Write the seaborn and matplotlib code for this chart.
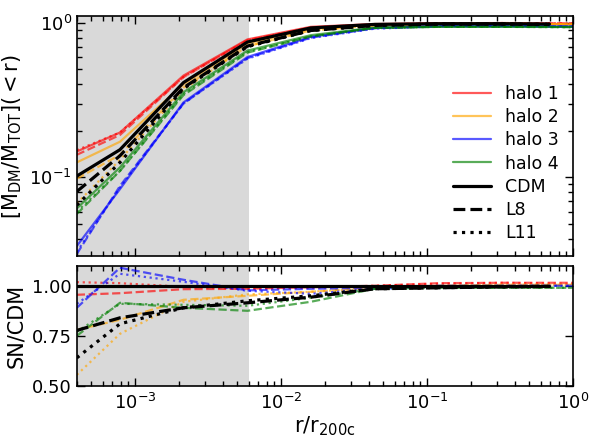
import matplotlib
matplotlib.use("Agg")
import matplotlib.pyplot as plt
from matplotlib.lines import Line2D
import seaborn as sns

# radial bins (r / r200c)
r = [4.0e-4, 7.9e-4, 2.15e-3, 5.9e-3, 1.6e-2, 4.4e-2, 0.12, 0.33, 1.0]
r_mean = [4.0e-4, 7.9e-4, 2.15e-3, 5.9e-3, 1.6e-2, 4.4e-2, 0.12, 0.33, 0.69]

halos = ["halo 1", "halo 2", "halo 3", "halo 4"]
halo_colors = ["red", "orange", "blue", "green"]

# enclosed DM fraction, per halo: CDM, L8, L11
frac_cdm = {
    "halo 1": [0.147, 0.195, 0.455, 0.78, 0.94, 0.98, 0.99, 0.99, 0.98],
    "halo 2": [0.125, 0.170, 0.40, 0.735, 0.91, 0.97, 0.985, 0.985, 0.975],
    "halo 3": [0.036, 0.084, 0.305, 0.60, 0.81, 0.925, 0.95, 0.95, 0.945],
    "halo 4": [0.063, 0.116, 0.355, 0.66, 0.83, 0.93, 0.94, 0.94, 0.94],
}
frac_l8 = {
    "halo 1": [0.140, 0.188, 0.445, 0.77, 0.93, 0.975, 0.99, 0.995, 0.99],
    "halo 2": [0.098, 0.140, 0.38, 0.705, 0.89, 0.96, 0.98, 0.985, 0.975],
    "halo 3": [0.032, 0.088, 0.30, 0.59, 0.80, 0.92, 0.95, 0.95, 0.945],
    "halo 4": [0.058, 0.110, 0.34, 0.64, 0.815, 0.925, 0.94, 0.94, 0.935],
}
frac_l11 = {
    "halo 1": [0.150, 0.195, 0.445, 0.77, 0.93, 0.975, 0.99, 0.995, 0.99],
    "halo 2": [0.068, 0.130, 0.37, 0.705, 0.89, 0.96, 0.98, 0.985, 0.975],
    "halo 3": [0.033, 0.086, 0.30, 0.585, 0.795, 0.915, 0.945, 0.95, 0.945],
    "halo 4": [0.060, 0.110, 0.345, 0.645, 0.815, 0.925, 0.94, 0.94, 0.935],
}
mean_cdm = [0.102, 0.151, 0.41, 0.75, 0.925, 0.975, 0.985, 0.985, 0.98]
mean_l8 = [0.081, 0.138, 0.38, 0.706, 0.89, 0.96, 0.98, 0.98, 0.975]
mean_l11 = [0.066, 0.125, 0.375, 0.70, 0.89, 0.96, 0.98, 0.98, 0.975]

# SN / CDM ratios
ratio_l8 = {
    "halo 1": [0.955, 0.963, 0.983, 0.985, 0.993, 1.0, 1.013, 1.015, 1.015],
    "halo 2": [0.78, 0.83, 0.93, 0.95, 0.97, 0.99, 1.0, 1.005, 1.005],
    "halo 3": [0.89, 1.09, 1.03, 0.977, 0.985, 0.99, 1.0, 1.0, 1.0],
    "halo 4": [0.75, 0.915, 0.89, 0.875, 0.92, 0.985, 0.99, 0.99, 0.99],
}
ratio_l11 = {
    "halo 1": [1.018, 1.013, 0.995, 0.985, 0.99, 1.0, 1.01, 1.015, 1.01],
    "halo 2": [0.555, 0.76, 0.92, 0.957, 0.97, 0.99, 1.0, 1.005, 1.005],
    "halo 3": [0.91, 1.06, 1.02, 0.975, 0.96, 0.985, 0.995, 1.0, 1.0],
    "halo 4": [0.77, 0.91, 0.905, 0.90, 0.94, 0.985, 0.99, 0.99, 0.99],
}
mean_ratio_cdm = [1.0, 1.0, 1.0, 1.0, 1.0, 1.0, 1.0, 1.0, 1.0]
mean_ratio_l8 = [0.777, 0.84, 0.89, 0.915, 0.943, 0.985, 0.99, 0.995, 0.997]
mean_ratio_l11 = [0.64, 0.81, 0.89, 0.925, 0.95, 0.985, 0.99, 0.995, 0.997]

sns.set_style("ticks")
plt.rcParams["font.family"] = ["DejaVu Sans"]
plt.rcParams["mathtext.default"] = "regular"
plt.rcParams["text.color"] = "black"
plt.rcParams["axes.labelcolor"] = "black"
plt.rcParams["xtick.color"] = "black"
plt.rcParams["ytick.color"] = "black"

fig = plt.figure(figsize=(6, 4.4), dpi=100)
ax1 = fig.add_axes([0.128, 0.418, 0.827, 0.545])
ax2 = fig.add_axes([0.128, 0.123, 0.827, 0.273], sharex=ax1)

shade_lim = 6e-3
for ax in (ax1, ax2):
    ax.axvspan(1e-5, shade_lim, color="0.85", zorder=0, lw=0)

def draw(ax, x, y, color, ls, lw, alpha):
    sns.lineplot(x=x, y=y, color=color, linestyle=ls, lw=lw, alpha=alpha,
                 ax=ax, sort=False, estimator=None)

for name, c in zip(halos, halo_colors):
    draw(ax1, r, frac_cdm[name], c, "-", 1.6, 0.65)
    draw(ax1, r, frac_l8[name], c, "--", 1.6, 0.65)
    draw(ax1, r, frac_l11[name], c, ":", 1.6, 0.65)
    draw(ax2, r, ratio_l8[name], c, "--", 1.6, 0.65)
    draw(ax2, r, ratio_l11[name], c, ":", 1.6, 0.65)

draw(ax1, r_mean, mean_cdm, "black", "-", 2.3, 1)
draw(ax1, r_mean, mean_l8, "black", "--", 2.3, 1)
draw(ax1, r_mean, mean_l11, "black", ":", 2.3, 1)
draw(ax2, r_mean, mean_ratio_cdm, "black", "-", 2.3, 1)
draw(ax2, r_mean, mean_ratio_l8, "black", "--", 2.3, 1)
draw(ax2, r_mean, mean_ratio_l11, "black", ":", 2.3, 1)

ax1.set_xscale("log")
ax1.set_yscale("log")
ax1.set_xlim(4e-4, 1)
ax1.set_ylim(0.031, 1.1)
ax2.set_ylim(0.5, 1.1)
ax2.set_yticks([0.5, 0.75, 1.0])
ax2.set_yticklabels(["0.50", "0.75", "1.00"])

for ax in (ax1, ax2):
    ax.tick_params(which="both", direction="in", top=True, right=True,
                   labelsize=13, width=1, color="black", labelcolor="black")
    ax.tick_params(which="major", length=6)
    ax.tick_params(which="minor", length=3.5)
    for s in ax.spines.values():
        s.set_linewidth(1.2)
        s.set_color("black")
ax1.tick_params(labelbottom=False)
ax2.tick_params(axis="x", which="major", pad=5)

ax1.set_ylabel(r"$[M_{DM}/M_{TOT}](<r)$", fontsize=15, color="black")
ax2.set_ylabel("SN/CDM", fontsize=15, color="black")
ax2.set_xlabel(r"$r/r_{200c}$", fontsize=15, labelpad=1, color="black")
ax1.set_xlabel("")

handles = [Line2D([], [], color=c, lw=1.6, alpha=0.65) for c in halo_colors]
handles += [Line2D([], [], color="black", lw=2.3, ls=ls) for ls in ["-", "--", ":"]]
labels = halos + ["CDM", "L8", "L11"]
ax1.legend(handles, labels, loc="lower right", frameon=False, fontsize=12.5,
           handlelength=2.2, labelspacing=0.3, borderaxespad=0.4,
           labelcolor="black")

fig.savefig("out.png", dpi=100)
